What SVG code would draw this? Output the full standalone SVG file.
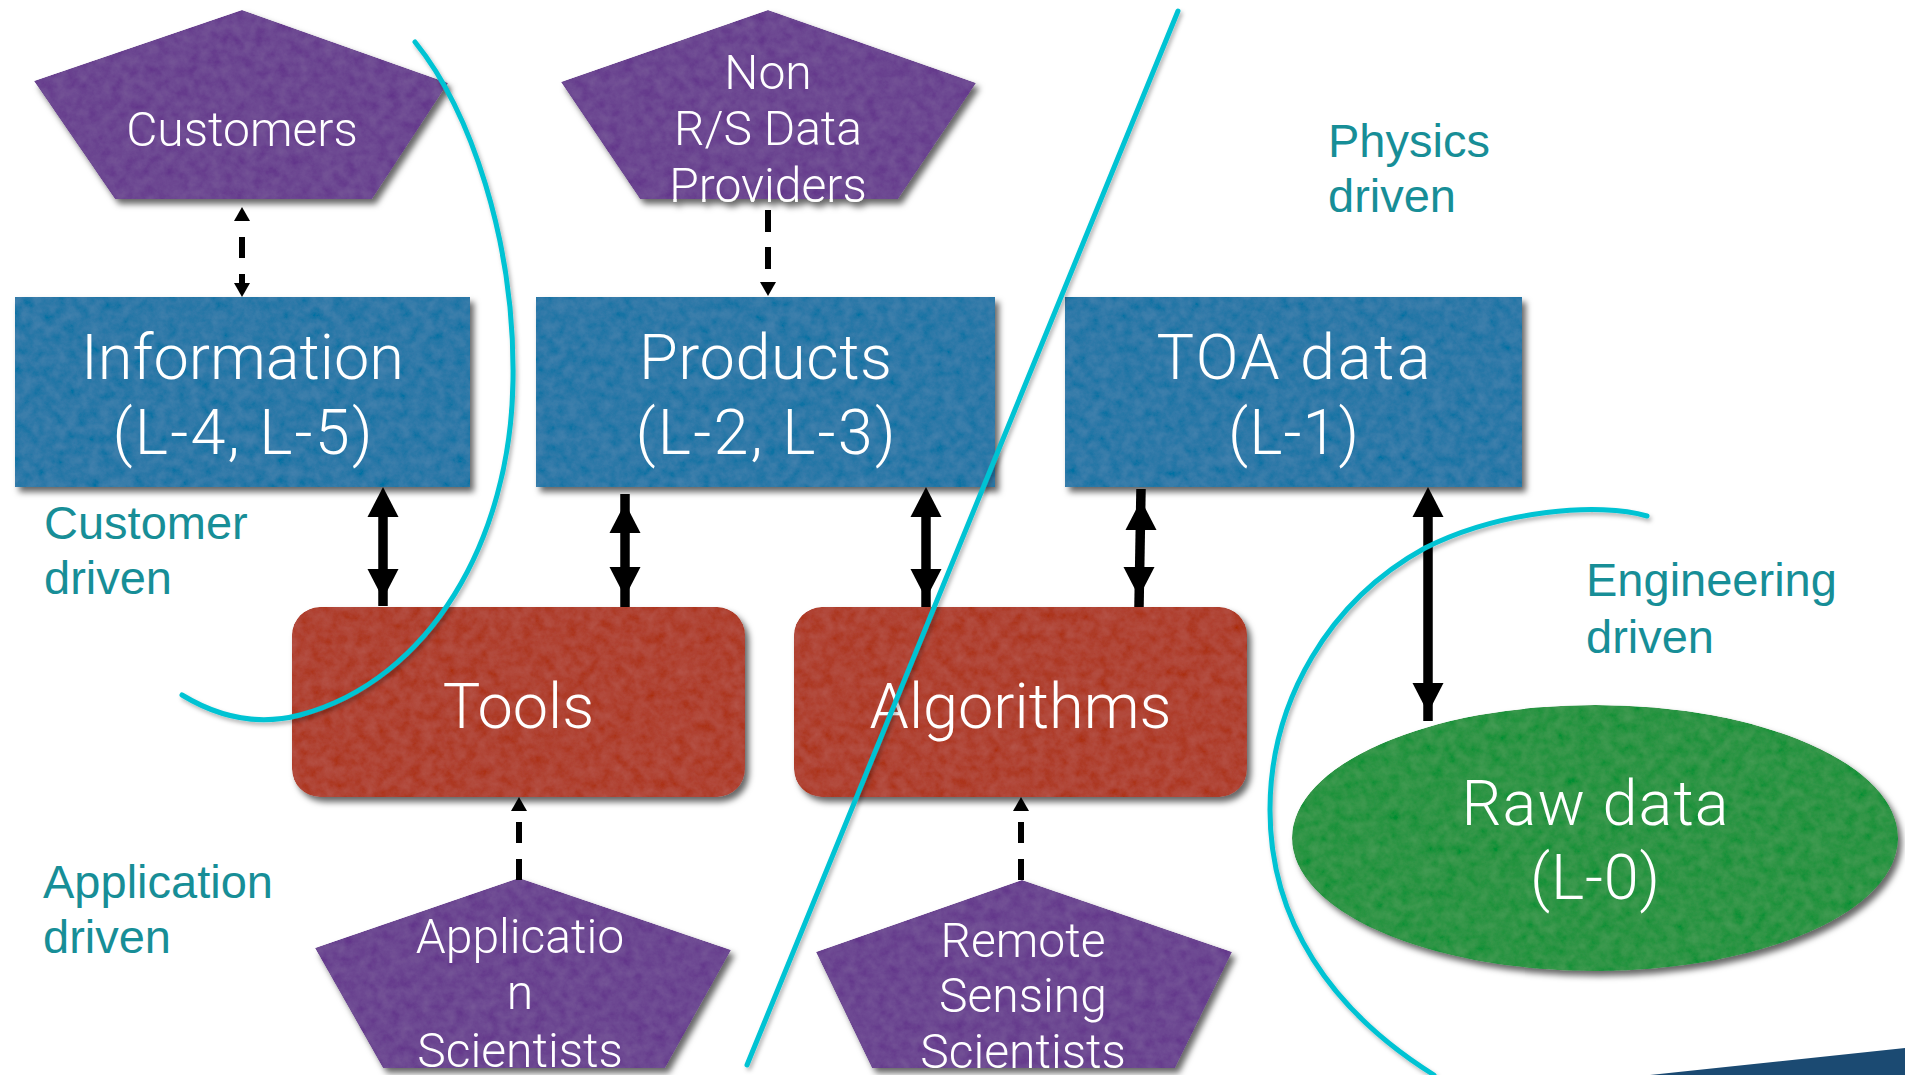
<svg xmlns="http://www.w3.org/2000/svg" xmlns:xlink="http://www.w3.org/1999/xlink" width="1905" height="1075" viewBox="0 0 1905 1075">
  <defs>
    <style>
      .box { fill: #2e79a8; }
      .tool { fill: #b04333; }
      .actor { fill: #6c4791; }
      .raw { fill: #2e9545; }
      .nt { font-family: Roboto, "Liberation Sans", sans-serif; font-weight: 300; fill: #ffffff; text-anchor: middle; }
      .big { font-size: 63px; }
      .small { font-size: 48px; }
      .zone { font-family: "Liberation Sans", Arial, sans-serif; font-size: 47px; fill: #178e97; }
      .bound { fill: none; stroke: #00c3d3; stroke-width: 5; stroke-linecap: round; }
      .shaft { stroke: #000; stroke-width: 9.5; fill: none; }
      .dash { stroke: #000; stroke-width: 6; fill: none; }
    </style>
    <!-- soft drop shadow for shapes -->
    <filter id="shadow" x="-10%" y="-10%" width="125%" height="130%">
      <feDropShadow dx="4" dy="5" stdDeviation="3" flood-color="#000" flood-opacity="0.6"/>
    </filter>
    <filter id="lineShadow" x="-10%" y="-10%" width="125%" height="125%">
      <feDropShadow dx="2" dy="3" stdDeviation="2" flood-color="#000" flood-opacity="0.3"/>
    </filter>
    <!-- fine paper-like texture -->
    <filter id="paper" x="0" y="0" width="100%" height="100%">
      <feTurbulence type="fractalNoise" baseFrequency="0.09" numOctaves="4" seed="7" result="noise"/>
      <feColorMatrix in="noise" type="matrix" values="1 0 0 0 0  1 0 0 0 0  1 0 0 0 0  0 0 0 0 1" result="gray"/>
      <feComposite in="SourceGraphic" in2="gray" operator="arithmetic" k1="0" k2="1" k3="0.07" k4="-0.035" result="tex"/>
      <feComposite in="tex" in2="SourceAlpha" operator="in"/>
    </filter>
    <!-- big arrowhead, tip at origin, pointing up -->
    <path id="hd" d="M0,0 L15.5,30 L-15.5,30 Z" fill="#000"/>
    <!-- small arrowhead, tip at origin, pointing up -->
    <path id="hs" d="M0,0 L8,14 L-8,14 Z" fill="#000"/>
  </defs>

  <rect width="1905" height="1075" fill="#ffffff"/>

  <!-- corner band -->
  <polygon points="1650,1075 1905,1048 1905,1075" fill="#1b4a72"/>

  <!-- Level-product boxes -->
  <g id="information" filter="url(#shadow)">
    <rect class="box" x="15" y="297" width="455" height="190" filter="url(#paper)"/>
    <text class="nt big" x="242.5" y="379">Information</text>
    <text class="nt big" x="242.5" y="454" textLength="260">(L-4, L-5)</text>
  </g>
  <g id="products" filter="url(#shadow)">
    <rect class="box" x="536" y="297" width="459" height="190" filter="url(#paper)"/>
    <text class="nt big" x="765.5" y="379" textLength="253">Products</text>
    <text class="nt big" x="765.5" y="454" textLength="260">(L-2, L-3)</text>
  </g>
  <g id="toa-data" filter="url(#shadow)">
    <rect class="box" x="1065" y="297" width="457" height="190" filter="url(#paper)"/>
    <text class="nt big" x="1293.5" y="379" textLength="274">TOA data</text>
    <text class="nt big" x="1293.5" y="454" textLength="131">(L-1)</text>
  </g>

  <!-- Processing boxes -->
  <g id="tools" filter="url(#shadow)">
    <rect class="tool" x="292" y="607" width="453" height="190" rx="28" ry="28" filter="url(#paper)"/>
    <text class="nt big" x="518.5" y="728">Tools</text>
  </g>
  <g id="algorithms" filter="url(#shadow)">
    <rect class="tool" x="794" y="607" width="453" height="190" rx="28" ry="28" filter="url(#paper)"/>
    <text class="nt big" x="1020.5" y="728" textLength="302">Algorithms</text>
  </g>

  <!-- Raw data -->
  <g id="raw-data" filter="url(#shadow)">
    <ellipse class="raw" cx="1595" cy="838" rx="303" ry="133" filter="url(#paper)"/>
    <text class="nt big" x="1595" y="825" textLength="267">Raw data</text>
    <text class="nt big" x="1595" y="899" textLength="130">(L-0)</text>
  </g>

  <!-- Stakeholders -->
  <g id="customers" filter="url(#shadow)">
    <polygon class="actor" points="242,10 448,83 372,199 115,199 34,81" filter="url(#paper)"/>
    <text class="nt small" x="242" y="146">Customers</text>
  </g>
  <g id="data-providers" filter="url(#shadow)">
    <polygon class="actor" points="768,10 976,83 898,199 640,199 561,82" filter="url(#paper)"/>
    <text class="nt small" x="768" y="89">Non</text>
    <text class="nt small" x="768" y="145">R/S Data</text>
    <text class="nt small" x="768" y="202">Providers</text>
  </g>
  <g id="application-scientists" filter="url(#shadow)">
    <polygon class="actor" points="519,878 731,950 665,1068 383,1068 315,948" filter="url(#paper)"/>
    <text class="nt small" x="520" y="953">Applicatio</text>
    <text class="nt small" x="520" y="1009">n</text>
    <text class="nt small" x="520" y="1067">Scientists</text>
  </g>
  <g id="rs-scientists" filter="url(#shadow)">
    <polygon class="actor" points="1022,880 1232,952 1175,1068 872,1068 816,952" filter="url(#paper)"/>
    <text class="nt small" x="1023" y="957">Remote</text>
    <text class="nt small" x="1023" y="1012">Sensing</text>
    <text class="nt small" x="1023" y="1068">Scientists</text>
  </g>

  <!-- Connectors -->
  <g id="connectors">
    <!-- Customers <-> Information -->
    <use href="#hs" x="242" y="207"/>
    <line class="dash" x1="242" y1="237" x2="242" y2="285" stroke-dasharray="21 16"/>
    <use href="#hs" transform="translate(242,297) rotate(180)"/>
    <!-- Non R/S data providers -> Products -->
    <line class="dash" x1="768" y1="210" x2="768" y2="280" stroke-dasharray="22 15"/>
    <use href="#hs" transform="translate(768,296) rotate(180)"/>
    <!-- Application scientists -> Tools -->
    <line class="dash" x1="519" y1="880" x2="519" y2="822" stroke-dasharray="21 16"/>
    <use href="#hs" x="519" y="797"/>
    <!-- Remote sensing scientists -> Algorithms -->
    <line class="dash" x1="1021" y1="880" x2="1021" y2="822" stroke-dasharray="21 16"/>
    <use href="#hs" x="1021" y="797"/>

    <!-- Information <-> Tools -->
    <line class="shaft" x1="383" y1="500" x2="383" y2="606"/>
    <use href="#hd" x="383" y="487"/>
    <use href="#hd" transform="translate(383,599) rotate(180)"/>
    <!-- Products <-> Tools -->
    <line class="shaft" x1="625" y1="494" x2="625" y2="607"/>
    <use href="#hd" x="625" y="503"/>
    <use href="#hd" transform="translate(625,597) rotate(180)"/>
    <!-- Products <-> Algorithms -->
    <line class="shaft" x1="926" y1="500" x2="926" y2="607"/>
    <use href="#hd" x="926" y="487"/>
    <use href="#hd" transform="translate(926,599) rotate(180)"/>
    <!-- TOA data <-> Algorithms -->
    <line class="shaft" x1="1141" y1="489" x2="1139" y2="607"/>
    <use href="#hd" x="1141" y="500"/>
    <use href="#hd" transform="translate(1139,597) rotate(180)"/>
    <!-- TOA data <-> Raw data -->
    <line class="shaft" x1="1428" y1="500" x2="1428" y2="721"/>
    <use href="#hd" x="1428" y="487"/>
    <use href="#hd" transform="translate(1428,713) rotate(180)"/>
  </g>

  <!-- Domain boundaries -->
  <g id="boundaries" filter="url(#lineShadow)">
    <path class="bound" d="M415,42 C470,110 515,240 513,380 C511,540 430,680 300,715 C250,728 210,712 182,695"/>
    <line class="bound" x1="1178" y1="11" x2="747" y2="1065"/>
    <path class="bound" d="M1647,516 C1600,502 1500,510 1425,548 C1330,600 1270,700 1270,810 C1270,920 1330,1010 1434,1075"/>
  </g>

  <!-- Domain labels -->
  <g id="labels">
    <text class="zone" x="44" y="539">Customer</text>
    <text class="zone" x="44" y="594">driven</text>
    <text class="zone" x="43" y="898">Application</text>
    <text class="zone" x="43" y="953">driven</text>
    <text class="zone" x="1328" y="157">Physics</text>
    <text class="zone" x="1328" y="212">driven</text>
    <text class="zone" x="1586" y="596">Engineering</text>
    <text class="zone" x="1586" y="653">driven</text>
  </g>
</svg>
